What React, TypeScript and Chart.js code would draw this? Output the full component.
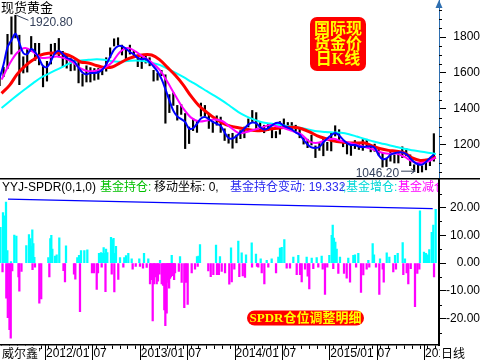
import React, { useEffect, useRef } from 'react';
import { Chart, registerables } from 'chart.js';

Chart.register(...registerables);

const FONT = '"Liberation Sans", Arial, "Noto Sans CJK SC", sans-serif';
Chart.defaults.font.family = FONT;

// time axis: months since 2011-07-01
const X_MIN = 0.3;
const X_MAX = 55.9;

// half-month price ranges (Jul 2011 H1 ... Feb 2016 H1)
const priceLow = [
  1530, 1580, 1625, 1705, 1795, 1535, 1600, 1605, 1720, 1670, 1645, 1523,
  1555, 1650, 1705, 1690, 1635, 1627, 1612, 1615, 1545, 1527, 1550, 1550, 1560, 1565, 1590, 1610, 1685, 1750, 1755, 1700, 1680, 1705, 1690, 1635,
  1625, 1655, 1640, 1555, 1560, 1585, 1321, 1380, 1420, 1338, 1370, 1180, 1208, 1280, 1270, 1360, 1360, 1292, 1270, 1310, 1270, 1225, 1210, 1182,
  1212, 1235, 1240, 1300, 1330, 1290, 1277, 1268, 1280, 1240, 1240, 1260, 1310, 1285, 1280, 1275, 1240, 1205, 1185, 1200, 1130, 1170, 1140, 1170,
  1167, 1250, 1217, 1190, 1150, 1142, 1180, 1175, 1170, 1185, 1162, 1165, 1145, 1077, 1080, 1110, 1100, 1100, 1130, 1140, 1085, 1052, 1046.2, 1050,
  1062, 1085, 1110,
];
const priceHigh = [
  1600, 1632, 1815, 1912, 1920.8, 1810, 1690, 1730, 1803, 1765, 1765, 1640,
  1665, 1760, 1765, 1792, 1720, 1700, 1680, 1670, 1665, 1595, 1640, 1630, 1625, 1625, 1625, 1685, 1740, 1790, 1796, 1755, 1740, 1755, 1725, 1700,
  1695, 1697, 1685, 1615, 1600, 1615, 1590, 1480, 1490, 1420, 1425, 1375, 1300, 1348, 1335, 1433, 1420, 1370, 1330, 1362, 1355, 1290, 1260, 1265,
  1255, 1280, 1300, 1345, 1392, 1380, 1330, 1310, 1315, 1295, 1275, 1330, 1345, 1325, 1325, 1310, 1290, 1240, 1232, 1255, 1195, 1210, 1240, 1215,
  1268, 1307, 1285, 1225, 1215, 1200, 1225, 1215, 1230, 1232, 1200, 1205, 1175, 1155, 1125, 1170, 1145, 1157, 1190, 1180, 1145, 1090, 1090, 1085,
  1110, 1125, 1263,
];
// short moving average, half-monthly
const blueMA = [
  1572, 1647, 1743, 1782, 1818, 1767, 1711, 1705, 1733, 1716, 1680, 1639,
  1633, 1666, 1710, 1724, 1706, 1685, 1676, 1662, 1630, 1603, 1592, 1600, 1600, 1604, 1618, 1647, 1690, 1730, 1749, 1749, 1735, 1717, 1704, 1684,
  1676, 1679, 1658, 1636, 1608, 1567, 1511, 1448, 1391, 1359, 1344, 1327, 1291, 1293, 1318, 1347, 1356, 1343, 1329, 1318, 1306, 1270, 1239, 1236,
  1250, 1269, 1291, 1313, 1325, 1321, 1299, 1286, 1293, 1309, 1322, 1322, 1306, 1297, 1287, 1270, 1257, 1228, 1203, 1187, 1184, 1189, 1215, 1236,
  1254, 1267, 1253, 1230, 1210, 1200, 1200, 1192, 1189, 1191, 1193, 1185, 1144, 1122, 1125, 1146, 1154, 1159, 1158, 1149, 1127, 1105, 1093, 1091,
  1106, 1128, 1147,
];
// longer moving averages, monthly (mid-month Jul 2011 ... Feb 2016)
const magentaMA = [
  1563, 1650, 1714, 1739, 1717, 1685, 1686, 1692, 1681, 1660, 1626, 1610, 1613, 1628, 1660, 1717, 1739, 1719, 1688, 1659,
  1619, 1551, 1475, 1404, 1352, 1331, 1336, 1342, 1332, 1298, 1267, 1272, 1285, 1298, 1311, 1302, 1290, 1274, 1258, 1219,
  1212, 1226, 1234, 1222, 1212, 1202, 1189, 1176, 1160, 1152, 1152, 1135, 1109, 1100, 1108, 1131,
];
const redMA = [
  1487, 1531, 1595, 1640, 1673, 1701, 1710, 1711, 1706, 1689, 1661, 1656, 1642, 1631, 1633, 1656, 1678, 1693, 1702, 1700,
  1674, 1631, 1587, 1534, 1471, 1418, 1381, 1348, 1322, 1305, 1296, 1287, 1281, 1280, 1289, 1293, 1298, 1298, 1290, 1273,
  1251, 1236, 1224, 1216, 1211, 1211, 1211, 1194, 1179, 1170, 1165, 1156, 1128, 1114, 1118, 1133,
];
const cyanMA = [
  1406, 1442, 1477, 1511, 1544, 1575, 1597, 1619, 1640, 1661, 1669, 1673, 1676, 1674, 1665, 1663, 1667, 1670, 1667, 1656,
  1645, 1624, 1602, 1578, 1552, 1526, 1499, 1473, 1445, 1414, 1383, 1359, 1341, 1326, 1319, 1313, 1307, 1302, 1295, 1285,
  1276, 1272, 1270, 1268, 1260, 1247, 1233, 1221, 1210, 1200, 1189, 1179, 1171, 1164, 1157, 1150,
];
const priceTicks = [1200, 1400, 1600, 1800];
const flowTicks = [-20, -10, 0, 10, 20];

// SPDR holding changes (tonnes) by month-time
const inflowMonth = [
  0.36, 0.68, 0.87, 1.06, 1.23, 1.69, 2.11, 2.37, 3.63, 3.97, 4.14, 4.29, 4.39, 4.52, 4.65, 6.42, 6.67, 6.8, 6.93, 7.27,
  7.48, 7.81, 8.66, 10.09, 10.31, 10.56, 10.98, 11.36, 12.84, 13.09, 13.22, 13.43, 13.6, 13.73, 13.89, 14.36, 14.52, 14.68, 14.87, 14.99,
  15.5, 16.04, 16.26, 16.55, 16.98, 17.94, 18.54, 19.08, 20.57, 22.05, 23.1, 25.25, 25.44, 25.63, 27.66, 28.16, 29.56, 30.48, 30.91, 31.46,
  32.18, 32.72, 33.32, 34.08, 34.71, 35.55, 35.76, 35.98, 36.31, 37.45, 38.08, 39.14, 39.78, 40.41, 41.04, 42.01, 42.31, 42.44, 42.6, 42.77,
  42.94, 43.36, 44.41, 45.05, 45.26, 45.68, 46.95, 47.5, 47.67, 48.43, 49.28, 49.61, 50.33, 50.67, 51.3, 51.59, 53.49, 54.0, 54.25, 54.51,
  54.67, 54.98, 55.18, 55.48,
];
const inflowValue = [
  12.9, 18.2, 17, 22, 4.5, 0.5, 10.1, 9.7, 6.3, 10.3, 8.8, 6, 12, 7, 2.1, 2, 8.8, 10, 5, 2.5,
  3, 9.1, 6.2, 2, 2.8, 4.5, 4.5, 4.8, 3.5, 3.8, 3.5, 5.6, 3.5, 5, 3.8, 9.3, 8.5, 8.9, 3.5, 6,
  2, 2, 2.7, 3.5, 1.5, 1.5, 3.5, 1.5, 1, 2.8, 2.3, 2.3, 2.5, 6.7, 6.5, 2.3, 5.5, 7.9, 3.7, 3,
  7.3, 3.2, 1.5, 1, 1.5, 2.2, 5.4, 5.7, 8.5, 2.2, 2.8, 2.2, 1.8, 2, 2.5, 2.8, 10, 13.7, 9, 7.6,
  5, 2.2, 1.8, 2.8, 3, 3.5, 1, 7, 3, 1.5, 3.7, 2.2, 2.8, 3.5, 7.4, 1.5, 18.8, 4, 3.5, 3,
  4.9, 11.1, 13.7, 19.332,
];
const outflowMonth = [
  0.62, 1.1, 1.29, 1.5, 1.66, 1.85, 2.64, 2.75, 3.02, 4.42, 4.73, 5.28, 5.52, 6.55, 8.34, 8.53, 9.67, 9.84, 10.43, 11.95,
  12.21, 12.55, 12.71, 13.18, 13.66, 14.45, 14.78, 15.28, 15.92, 17.1, 17.49, 18.03, 18.41, 18.88, 19.3, 19.45, 19.64, 19.81, 19.95, 20.15,
  20.3, 20.5, 20.78, 20.95, 21.11, 21.24, 21.41, 21.5, 21.62, 21.72, 21.83, 21.95, 22.09, 22.2, 22.35, 22.47, 22.95, 23.31, 23.64, 23.86,
  24.07, 24.58, 25.0, 25.34, 26.68, 26.99, 27.32, 27.78, 28.02, 28.38, 28.8, 29.34, 29.65, 29.98, 30.61, 31.05, 31.33, 32.22, 32.85, 33.01,
  33.45, 33.78, 34.28, 35.26, 36.61, 37.03, 37.88, 38.3, 38.51, 38.93, 39.27, 39.47, 39.98, 40.61, 41.17, 41.46, 41.75, 42.51, 43.15, 43.87,
  44.21, 44.63, 45.4, 46.02, 46.31, 46.74, 47.07, 47.92, 48.34, 48.77, 48.9, 50.11, 50.45, 51.38, 51.81, 52.01, 52.32, 52.86, 53.15, 53.41,
  55.27,
];
const outflowValue = [
  -3.2, -12.6, -19.7, -24, -27, -2.8, -5, -10.1, -3, -2.4, -1.5, -14.4, -12.9, -5, -2.7, -6.8, -4, -5.8, -17.5, -3.5,
  -3.5, -9.5, -3.5, -1.5, -10.3, -4, -10.4, -5.9, -1.5, -2.2, -1.2, -1.2, -1.8, -1.6, -7.5, -6, -20.8, -7.5, -5, -7.5,
  -6.5, -4, -7.5, -8, -16.9, -22.5, -18, -6, -7, -9, -5.5, -5, -4.5, -4, -6, -3.5, -3, -7, -16.1, -7,
  -14.9, -3.5, -2.2, -1.2, -2.8, -4.9, -4.2, -4.2, -4.2, -3, -3.5, -7.6, -6.8, -2.2, -4.9, -4.6, -5.2, -1.5, -1.2, -1.5,
  -3.5, -7.5, -1.5, -3.5, -1.8, -1.8, -4.2, -4.2, -6.8, -2.2, -4.7, -9.3, -2, -1.5, -2.2, -11.3, -1.5, -2, -3.7, -3.7,
  -5.4, -6.9, -1.5, -10.6, -4.3, -2.2, -1.5, -1.5, -11.3, -2.2, -6.9, -3.2, -2.2, -4.2, -3.5, -7.5, -2, -15.7, -3.7, -2.2,
  -5,
];
const holdingTrendMonth = [1.31, 55.1];
const holdingTrendValue = [23.0, 19.6];

const halfMonth = priceLow.map((_, k) => 0.25 + 0.5 * k);
const midMonth = cyanMA.map((_, i) => 0.5 + i);
const monthTicks = Array.from({ length: 56 }, (_, i) => i);

function roundRectPath(ctx: any, x: number, y: number, w: number, h: number, r: number) {
  ctx.beginPath();
  ctx.moveTo(x + r, y);
  ctx.lineTo(x + w - r, y);
  ctx.arcTo(x + w, y, x + w, y + r, r);
  ctx.lineTo(x + w, y + h - r);
  ctx.arcTo(x + w, y + h, x + w - r, y + h, r);
  ctx.lineTo(x + r, y + h);
  ctx.arcTo(x, y + h, x, y + h - r, r);
  ctx.lineTo(x, y + r);
  ctx.arcTo(x, y, x + r, y, r);
  ctx.closePath();
}

const topDecor = {
  id: 'topDecor',
  afterDraw(chart: any) {
    const { ctx, chartArea } = chart;
    const xs = chart.scales.x;
    const ys = chart.scales.y;
    ctx.save();
    ctx.strokeStyle = '#000';
    ctx.lineWidth = 1;
    for (let v = 1050; v < 2000; v += 50) {
      if (v % 200 === 0) continue;
      const py = Math.round(ys.getPixelForValue(v)) + 0.5;
      ctx.beginPath();
      ctx.moveTo(chartArea.right, py);
      ctx.lineTo(chartArea.right + 3, py);
      ctx.stroke();
    }
    ctx.fillStyle = '#2f6fb0';
    ctx.beginPath();
    ctx.moveTo(chartArea.right - 3.5, 8);
    ctx.lineTo(chartArea.right, 0);
    ctx.lineTo(chartArea.right + 3.5, 8);
    ctx.closePath();
    ctx.fill();
    ctx.fillStyle = '#000';
    ctx.font = `13px ${FONT}`;
    ctx.textBaseline = 'alphabetic';
    ctx.textAlign = 'left';
    ctx.fillText('现货黄金', 1, 12);
    let hi = 0;
    priceHigh.forEach((v, i) => { if (v > priceHigh[hi]) hi = i; });
    const hx = xs.getPixelForValue(halfMonth[hi]);
    const hy = ys.getPixelForValue(priceHigh[hi]);
    ctx.strokeStyle = '#34405a';
    ctx.beginPath();
    ctx.moveTo(hx + 1, hy);
    ctx.lineTo(hx + 13, hy + 5);
    ctx.stroke();
    ctx.fillStyle = '#34405a';
    ctx.font = `12px ${FONT}`;
    ctx.fillText(priceHigh[hi].toFixed(2), hx + 14, hy + 11);
    let lo = 0;
    priceLow.forEach((v, i) => { if (v < priceLow[lo]) lo = i; });
    const lx = xs.getPixelForValue(halfMonth[lo]);
    const ly = ys.getPixelForValue(priceLow[lo]);
    ctx.textAlign = 'right';
    ctx.fillText(priceLow[lo].toFixed(2), lx - 19, ly + 4.5);
    ctx.beginPath();
    ctx.moveTo(lx - 17, ly - 1.5);
    ctx.lineTo(lx - 3, ly - 1.5);
    ctx.moveTo(lx - 7, ly - 4);
    ctx.lineTo(lx - 3, ly - 1.5);
    ctx.lineTo(lx - 7, ly + 1);
    ctx.stroke();
    ctx.fillStyle = '#ff0000';
    roundRectPath(ctx, 310, 17, 56, 54, 7);
    ctx.fill();
    ctx.fillStyle = '#ffff00';
    ctx.font = `bold 16px "Liberation Serif", "Noto Sans CJK SC", sans-serif`;
    ctx.textAlign = 'center';
    ctx.textBaseline = 'middle';
    ctx.fillText('国际现', 338, 29.5);
    ctx.fillText('货金价', 338, 45);
    ctx.fillText('日K线', 338, 59.5);
    ctx.restore();
  },
};

const bottomDecor = {
  id: 'bottomDecor',
  afterDraw(chart: any) {
    const { ctx, chartArea } = chart;
    const xs = chart.scales.x;
    const ys = chart.scales.y;
    const OFF = 178;
    ctx.save();
    ctx.fillStyle = '#000';
    ctx.fillRect(0, 0, chart.width, 1.5);
    ctx.strokeStyle = '#000';
    ctx.lineWidth = 1;
    [-25, -15, -5, 5, 15, 25].forEach((v) => {
      const py = Math.round(ys.getPixelForValue(v)) + 0.5;
      ctx.beginPath();
      ctx.moveTo(chartArea.right, py);
      ctx.lineTo(chartArea.right + 3, py);
      ctx.stroke();
    });
    for (let m = 0; m <= 55; m += 6) {
      const px = Math.round(xs.getPixelForValue(m)) + 0.5;
      if (px < 0 || px > chartArea.right) continue;
      ctx.beginPath();
      ctx.moveTo(px, chartArea.bottom);
      ctx.lineTo(px, chart.height);
      ctx.stroke();
    }
    ctx.save();
    ctx.beginPath();
    ctx.rect(0, 0, chartArea.right - 1, 20);
    ctx.clip();
    ctx.font = `12px ${FONT}`;
    ctx.textAlign = 'left';
    ctx.textBaseline = 'alphabetic';
    const last = inflowValue[inflowValue.length - 1];
    const segs: [string, string, number][] = [
      ['YYJ-SPDR(0,1,0)', '#000000', 2],
      ['基金持仓:', '#00c000', 100],
      ['移动坐标: 0,', '#000000', 154],
      ['基金持仓变动: ' + last.toFixed(3), '#2a2af0', 230],
      ['↑', '#1e88c8', 339],
      [',', '#00d0d0', 343],
      ['基金增仓:', '#00d8d8', 346],
      ['基金减仓', '#ff00ff', 398],
    ];
    segs.forEach(([t, c, x]) => {
      ctx.fillStyle = c;
      ctx.fillText(t, x, 13);
    });
    ctx.restore();
    ctx.fillStyle = '#ff0000';
    roundRectPath(ctx, 247, 310.5 - OFF, 117, 15, 7.5);
    ctx.fill();
    ctx.fillStyle = '#ffff00';
    ctx.font = `bold 13px "Liberation Serif", "Noto Sans CJK SC", sans-serif`;
    ctx.textAlign = 'center';
    ctx.textBaseline = 'middle';
    ctx.fillText('SPDR仓位调整明细', 305.5, 318.5 - OFF);
    ctx.fillStyle = '#ffffff';
    ctx.fillRect(0, chartArea.bottom + 1, 39, chart.height - chartArea.bottom);
    ctx.fillRect(chartArea.right + 1, chartArea.bottom + 1, chart.width - chartArea.right, chart.height - chartArea.bottom);
    ctx.fillStyle = '#000';
    ctx.font = `12px ${FONT}`;
    ctx.textAlign = 'left';
    ctx.textBaseline = 'alphabetic';
    ctx.fillText('威尔鑫', 2, 180);
    ctx.fillText('日线', 441, 180);
    ctx.restore();
  },
};

export default function App() {
  const topRef = useRef<HTMLCanvasElement>(null);
  const botRef = useRef<HTMLCanvasElement>(null);

  useEffect(() => {
    const line = (vals: number[], times: number[], color: string, width: number, order: number) => ({
      type: 'line' as const,
      data: vals.map((v, i) => ({ x: times[i], y: v })),
      borderColor: color,
      borderWidth: width,
      pointRadius: 0,
      tension: 0.35,
      order,
    });
    const noPad = (s: any) => {
      s.paddingTop = 0;
      s.paddingBottom = 0;
      s.paddingLeft = 0;
      s.paddingRight = 0;
    };

    const top = new Chart(topRef.current as HTMLCanvasElement, {
      type: 'bar',
      data: {
        datasets: [
          {
            type: 'bar',
            data: priceLow.map((l, k) => ({ x: halfMonth[k], y: [l, priceHigh[k]] })) as any,
            backgroundColor: '#000000',
            barThickness: 1.5,
            grouped: false,
            order: 10,
          } as any,
          line(cyanMA, midMonth, '#00ffff', 2, 4),
          line(redMA, midMonth, '#ff0000', 3, 3),
          line(magentaMA, midMonth, '#ff00ff', 2, 2),
          line(blueMA, halfMonth, '#0000ff', 2, 1),
        ],
      },
      options: {
        responsive: false,
        animation: false,
        devicePixelRatio: 1,
        layout: { padding: 0 },
        plugins: { legend: { display: false }, tooltip: { enabled: false } },
        scales: {
          x: {
            type: 'linear',
            position: 'bottom',
            min: X_MIN,
            max: X_MAX,
            offset: false,
            display: true,
            afterFit: (s: any) => { s.height = 0; noPad(s); },
            ticks: { display: false },
            grid: { display: false, drawTicks: false },
            border: { display: false },
          },
          y: {
            type: 'linear',
            position: 'right',
            min: 1016.6,
            max: 2005.6,
            afterBuildTicks: (s: any) => { s.ticks = priceTicks.map((v) => ({ value: v })); },
            afterFit: (s: any) => { s.width = 41; noPad(s); },
            ticks: { crossAlign: 'far', padding: 4, color: '#000', font: { size: 12 }, callback: (v: any) => String(v) },
            grid: { drawOnChartArea: false, drawTicks: true, tickLength: 7, tickColor: '#000' },
            border: { display: true, color: '#2f6fb0', width: 1 },
          },
        },
      } as any,
      plugins: [topDecor],
    });

    const bottom = new Chart(botRef.current as HTMLCanvasElement, {
      type: 'bar',
      data: {
        datasets: [
          {
            type: 'line',
            data: holdingTrendValue.map((v, i) => ({ x: holdingTrendMonth[i], y: v })),
            borderColor: '#0000ff',
            borderWidth: 1.3,
            pointRadius: 0,
            order: 1,
          } as any,
          {
            type: 'bar',
            data: inflowValue.map((v, i) => ({ x: inflowMonth[i], y: v })),
            backgroundColor: '#00ffff',
            barThickness: 1.6,
            grouped: false,
            order: 2,
          } as any,
          {
            type: 'bar',
            data: outflowValue.map((v, i) => ({ x: outflowMonth[i], y: v })),
            backgroundColor: '#ff00ff',
            barThickness: 1.6,
            grouped: false,
            order: 3,
          } as any,
        ],
      },
      options: {
        responsive: false,
        animation: false,
        devicePixelRatio: 1,
        layout: { padding: { top: 1.5 } },
        plugins: { legend: { display: false }, tooltip: { enabled: false } },
        scales: {
          x: {
            type: 'linear',
            position: 'bottom',
            min: X_MIN,
            max: X_MAX,
            offset: false,
            afterBuildTicks: (s: any) => { s.ticks = monthTicks.map((v) => ({ value: v })); },
            afterFit: (s: any) => { s.height = 15; noPad(s); },
            ticks: {
              autoSkip: false,
              maxRotation: 0,
              minRotation: 0,
              align: 'start',
              labelOffset: 1,
              padding: -3,
              color: '#000',
              font: { size: 12 },
              callback: (v: any) => {
                const m = Math.round(Number(v));
                if (m % 12 === 6) return `${2011 + (m + 6) / 12}/01`;
                if (m % 12 === 0) return m === 0 ? '2011/07' : '07';
                return '';
              },
            },
            grid: { drawOnChartArea: false, drawTicks: true, tickLength: 4, tickColor: '#000' },
            border: { display: true, color: '#000', width: 1.5 },
          },
          y: {
            type: 'linear',
            position: 'right',
            min: -29.5,
            max: 30.1,
            afterBuildTicks: (s: any) => { s.ticks = flowTicks.map((v) => ({ value: v })); },
            afterFit: (s: any) => { s.width = 41; noPad(s); },
            ticks: { crossAlign: 'far', padding: -3, color: '#000', font: { size: 12 }, callback: (v: any) => Number(v).toFixed(2) },
            grid: { drawOnChartArea: false, drawTicks: true, tickLength: 7, tickColor: '#000' },
            border: { display: true, color: '#000', width: 2 },
          },
        },
      } as any,
      plugins: [bottomDecor],
    });

    return () => {
      top.destroy();
      bottom.destroy();
    };
  }, []);

  return (
    <div style={{ position: 'fixed', left: 0, top: 0, width: 480, height: 360, background: '#ffffff' }}>
      <canvas ref={topRef} width={480} height={178} style={{ position: 'absolute', left: 0, top: 0, width: 480, height: 178 }} />
      <canvas ref={botRef} width={480} height={182} style={{ position: 'absolute', left: 0, top: 178, width: 480, height: 182 }} />
    </div>
  );
}
